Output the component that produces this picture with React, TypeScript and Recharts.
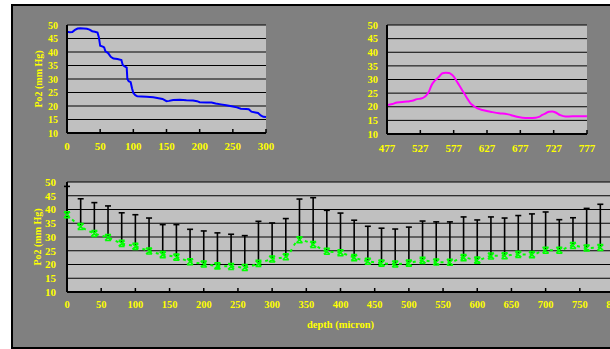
import React from "react";
import { LineChart, ComposedChart, Line, XAxis, YAxis, CartesianGrid, ErrorBar, Label } from "recharts";

const FONT = '"Liberation Serif", "Times New Roman", serif';
const YELLOW = "#ffff00";

const yTicks = [10, 15, 20, 25, 30, 35, 40, 45, 50];

// top left profile
const depthA = [0, 4, 8, 12, 16, 20, 25, 30, 34, 38, 42, 46, 48, 50, 54, 56, 58, 62, 66, 70, 76, 82, 84, 86, 90, 91, 93, 96, 98, 100, 103, 106, 112, 120, 130, 138, 144, 150, 154, 160, 170, 180, 190, 196, 200, 210, 218, 224, 232, 240, 246, 250, 256, 262, 270, 274, 278, 284, 288, 292, 296, 300];
const po2A = [47.5, 47.3, 47.4, 48.2, 48.7, 48.8, 48.7, 48.6, 48.3, 47.7, 47.5, 47.2, 45.5, 42.3, 42.0, 41.7, 40.2, 39.6, 38.2, 37.6, 37.4, 37.0, 35.2, 34.8, 34.2, 30.0, 29.2, 28.8, 26.6, 24.8, 24.0, 23.6, 23.5, 23.4, 23.2, 22.9, 22.6, 21.8, 21.9, 22.2, 22.3, 22.1, 22.0, 21.8, 21.4, 21.3, 21.3, 20.9, 20.6, 20.3, 20.0, 19.8, 19.5, 19.0, 18.9, 18.8, 17.9, 17.6, 17.4, 16.5, 16.0, 15.9];
const ticksA = [0, 50, 100, 150, 200, 250, 300];

// top right profile
const depthB = [477, 485, 492, 500, 507, 515, 522, 528, 532, 536, 540, 544, 548, 552, 556, 560, 565, 570, 574, 578, 582, 586, 590, 594, 598, 602, 607, 612, 620, 632, 645, 657, 665, 672, 680, 690, 700, 705, 710, 715, 720, 725, 730, 737, 745, 755, 765, 777];
const po2B = [20.6, 21.0, 21.6, 21.7, 21.9, 22.2, 22.8, 23.0, 23.4, 24.2, 25.6, 28.0, 29.4, 30.3, 31.3, 32.3, 32.5, 32.4, 31.8, 30.8, 29.2, 27.6, 26.0, 24.4, 22.8, 21.3, 20.3, 19.5, 18.8, 18.2, 17.6, 17.3, 16.8, 16.3, 16.0, 15.9, 16.0, 16.3, 17.0, 17.6, 18.2, 18.3, 17.9, 16.9, 16.4, 16.5, 16.5, 16.5];
const ticksB = [477, 527, 577, 627, 677, 727, 777];

// bottom: mean and upper error
const depthC = [0, 20, 40, 60, 80, 100, 120, 140, 160, 180, 200, 220, 240, 260, 280, 300, 320, 340, 360, 380, 400, 420, 440, 460, 480, 500, 520, 540, 560, 580, 600, 620, 640, 660, 680, 700, 720, 740, 760, 780];
const meanC = [38.1, 33.8, 31.3, 29.8, 27.7, 26.6, 24.9, 23.6, 22.7, 21.0, 20.2, 19.5, 19.3, 18.9, 20.4, 22.0, 22.8, 29.0, 27.3, 24.8, 24.3, 22.5, 21.2, 20.5, 20.2, 20.5, 21.5, 20.9, 20.8, 22.5, 21.6, 23.1, 23.2, 23.7, 23.6, 25.2, 25.2, 26.9, 26.0, 26.2];
const upperC = [48.4, 43.9, 42.5, 41.3, 38.8, 38.1, 36.9, 34.5, 34.5, 32.8, 32.2, 31.5, 31.0, 30.5, 35.7, 35.1, 36.7, 43.8, 44.3, 39.7, 38.7, 36.1, 33.9, 33.2, 32.9, 33.6, 35.8, 35.5, 35.5, 37.3, 36.2, 37.3, 36.9, 37.8, 38.4, 39.1, 36.3, 37.0, 40.4, 41.9];
const ticksC = [0, 50, 100, 150, 200, 250, 300, 350, 400, 450, 500, 550, 600, 650, 700, 750, 800];

const dataA = depthA.map((d, i) => ({ d, v: po2A[i] }));
const dataB = depthB.map((d, i) => ({ d, v: po2B[i] }));
const dataC = depthC.map((d, i) => ({
  d,
  mean: meanC[i],
  top: upperC[i],
  err: [0, upperC[i] - meanC[i]],
}));

const makeXTick = (gap: number, size: number) => (props: any) => {
  const { x, y, payload } = props;
  const axisY = y - gap;
  return (
    <g>
      <line x1={x} x2={x} y1={axisY} y2={axisY - 4} stroke="#000" strokeWidth={1.5} />
      <text x={x} y={y} dy="0.71em" textAnchor="middle" fill={YELLOW} fontSize={size} fontWeight="bold" fontFamily={FONT}>
        {payload.value}
      </text>
    </g>
  );
};

const yLabel = (dx: number) => (props: any) => {
  const vb = props.viewBox || { x: 0, y: 0, height: 0 };
  const x = vb.x + dx;
  const y = vb.y + vb.height / 2;
  return (
    <text x={x} y={y} transform={`rotate(-90 ${x} ${y})`} textAnchor="middle" dominantBaseline="central" fill={YELLOW} fontSize={10} fontWeight="bold" fontFamily={FONT}>
      Po2 (mm Hg)
    </text>
  );
};

const xLabel = (props: any) => {
  const vb = props.viewBox || { x: 0, y: 0, width: 0 };
  return (
    <text x={vb.x + vb.width / 2} y={vb.y + 32} textAnchor="middle" dominantBaseline="central" fill={YELLOW} fontSize={10.5} fontWeight="bold" fontFamily={FONT}>
      depth (micron)
    </text>
  );
};

const marker = (props: any) => {
  const { cx, cy, index } = props;
  if (cx == null || cy == null) return <g key={index} />;
  const s = 3;
  return (
    <path
      key={index}
      d={`M${cx - s},${cy - s}L${cx + s},${cy + s}M${cx + s},${cy - s}L${cx - s},${cy + s}M${cx - s},${cy - s}H${cx + s}M${cx - s},${cy + s}H${cx + s}`}
      stroke="#00ff00"
      strokeWidth={1.6}
      fill="none"
    />
  );
};

const cap = (props: any) => {
  const { cx, cy, index } = props;
  if (cx == null || cy == null) return <g key={index} />;
  return <line key={index} x1={cx - 3} x2={cx + 3} y1={cy} y2={cy} stroke="#000" strokeWidth={1.6} />;
};

const yTickStyle = (size: number) => ({ fill: YELLOW, fontSize: size, fontWeight: "bold", fontFamily: FONT });
const axisStyle = { stroke: "#000", strokeWidth: 2 };

export default function App() {
  return (
    <div style={{ position: "absolute", left: 0, top: 0, width: 610, height: 349, overflow: "hidden", background: "#fff" }}>
      <div style={{ position: "absolute", left: 11, top: 4, width: 620, height: 341, background: "#808080", border: "2px solid #000" }} />

      <div style={{ position: "absolute", left: 0, top: 0 }}>
        <LineChart width={300} height={170} data={dataA} margin={{ top: 25, right: 34, bottom: 12, left: 0 }}>
          <CartesianGrid vertical={false} stroke="#000" fill="#c0c0c0" fillOpacity={1} />
          <XAxis dataKey="d" type="number" domain={[0, 300]} ticks={ticksA} interval={0} height={25} tickLine={false} tickSize={0} tickMargin={9} axisLine={axisStyle} tick={makeXTick(9, 11)} />
          <YAxis domain={[10, 50]} ticks={yTicks} interval={0} width={67} tickLine={false} tickSize={0} tickMargin={9} axisLine={axisStyle} tick={yTickStyle(10)}>
            <Label content={yLabel(38)} />
          </YAxis>
          <Line type="linear" dataKey="v" stroke="#0000ff" strokeWidth={2} dot={false} activeDot={false} isAnimationActive={false} />
        </LineChart>
      </div>

      <div style={{ position: "absolute", left: 300, top: 0 }}>
        <LineChart width={310} height={170} data={dataB} margin={{ top: 25, right: 23, bottom: 11, left: 0 }}>
          <CartesianGrid vertical={false} stroke="#000" fill="#c0c0c0" fillOpacity={1} />
          <XAxis dataKey="d" type="number" domain={[477, 777]} ticks={ticksB} interval={0} height={25} tickLine={false} tickSize={0} tickMargin={10} axisLine={axisStyle} tick={makeXTick(10, 11)} />
          <YAxis domain={[10, 50]} ticks={yTicks} interval={0} width={87} tickLine={false} tickSize={0} tickMargin={9} axisLine={axisStyle} tick={yTickStyle(10.5)} />
          <Line type="monotone" dataKey="v" stroke="#ff00ff" strokeWidth={2} dot={false} activeDot={false} isAnimationActive={false} />
        </LineChart>
      </div>

      <div style={{ position: "absolute", left: 0, top: 170 }}>
        <ComposedChart width={620} height={179} data={dataC} margin={{ top: 12, right: 6, bottom: 12, left: 0 }}>
          <CartesianGrid vertical={false} stroke="#000" fill="#c0c0c0" fillOpacity={1} />
          <XAxis dataKey="d" type="number" domain={[0, 800]} ticks={ticksC} interval={0} height={45} tickLine={false} tickSize={0} tickMargin={9} axisLine={axisStyle} tick={makeXTick(9, 10.5)}>
            <Label content={xLabel} />
          </XAxis>
          <YAxis domain={[10, 50]} ticks={yTicks} interval={0} width={67} tickLine={false} tickSize={0} tickMargin={11} axisLine={axisStyle} tick={yTickStyle(11)}>
            <Label content={yLabel(37)} />
          </YAxis>
          <Line type="linear" dataKey="top" stroke="none" dot={cap} activeDot={false} isAnimationActive={false} />
          <Line type="monotone" dataKey="mean" stroke="#00ff00" strokeWidth={2} strokeDasharray="3 4" dot={marker} activeDot={false} isAnimationActive={false}>
            <ErrorBar dataKey="err" direction="y" width={0} stroke="#000" strokeWidth={1.6} isAnimationActive={false} />
          </Line>
        </ComposedChart>
      </div>
    </div>
  );
}
